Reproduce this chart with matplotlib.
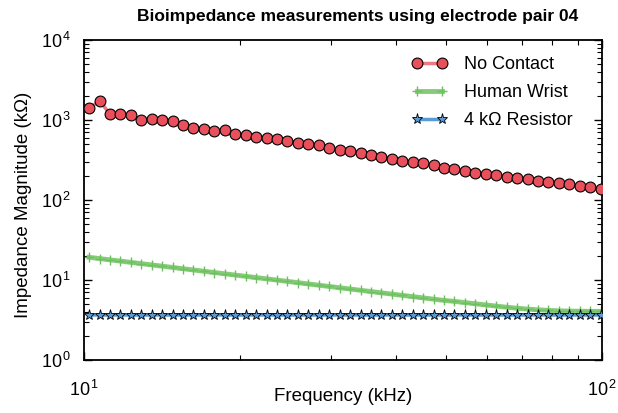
import numpy as np
import matplotlib
matplotlib.use("Agg")
import matplotlib.pyplot as plt
from matplotlib.ticker import NullFormatter, FuncFormatter

plt.rcParams['font.family'] = ['Liberation Sans', 'DejaVu Sans']
plt.rcParams['mathtext.fontset'] = 'custom'
plt.rcParams['mathtext.rm'] = 'Liberation Sans'
plt.rcParams['mathtext.it'] = 'Liberation Sans:italic'
plt.rcParams['mathtext.bf'] = 'Liberation Sans:bold'

# Data (kHz, kOhm)
freq = [10.23, 10.72, 11.22, 11.76, 12.31, 12.90, 13.51, 14.16, 14.83, 15.54,
        16.27, 17.04, 17.86, 18.70, 19.59, 20.52, 21.50, 22.52, 23.59, 24.71,
        25.88, 27.11, 28.40, 29.75, 31.16, 32.64, 34.19, 35.81, 37.51, 39.30,
        41.16, 43.12, 45.17, 47.31, 49.55, 51.91, 54.37, 56.95, 59.66, 62.49,
        65.46, 68.57, 71.82, 75.24, 78.81, 82.55, 86.47, 90.58, 94.87, 99.38]

no_contact = [1400, 1742, 1189, 1200, 1143, 991, 1029, 991, 980, 857,
              801, 778, 729, 750, 674, 649, 613, 590, 573, 551,
              520, 497, 482, 450, 424, 410, 390, 362, 348, 328,
              307, 299, 288, 272, 253, 242, 230, 219, 211, 204,
              196, 188, 181, 173, 169, 165, 158, 150, 145, 138]

human_wrist = [19.23, 18.54, 17.88, 17.24, 16.62, 16.02, 15.45, 14.89, 14.36, 13.84,
               13.35, 12.87, 12.41, 11.96, 11.53, 11.12, 10.72, 10.34, 9.97, 9.61,
               9.27, 8.93, 8.61, 8.30, 8.01, 7.72, 7.44, 7.18, 6.92, 6.67,
               6.43, 6.20, 5.98, 5.76, 5.56, 5.40, 5.22, 5.05, 4.88, 4.72,
               4.57, 4.44, 4.33, 4.24, 4.17, 4.12, 4.09, 4.07, 4.06, 4.05]

resistor = [3.66, 3.65, 3.65, 3.66, 3.65, 3.65, 3.65, 3.66, 3.65, 3.65,
            3.65, 3.65, 3.66, 3.65, 3.65, 3.65, 3.65, 3.66, 3.65, 3.65,
            3.65, 3.65, 3.65, 3.66, 3.65, 3.65, 3.65, 3.65, 3.65, 3.66,
            3.65, 3.65, 3.65, 3.65, 3.65, 3.65, 3.66, 3.65, 3.65, 3.65,
            3.65, 3.65, 3.65, 3.66, 3.65, 3.65, 3.65, 3.65, 3.65, 3.65]

fig = plt.figure(figsize=(6.18, 4.13), dpi=100)
ax = fig.add_axes([0.1359, 0.1283, 0.8382, 0.7748])

ax.plot(freq, no_contact, color='#ee7a80', lw=2.5, marker='o', ms=7.8,
        mfc='#e9505c', mec='black', mew=0.8, label='No Contact', zorder=3)
ax.plot(freq, human_wrist, color='#86cc78', lw=3.5, marker='+', ms=7,
        mec='#6cc060', mew=1.0, label='Human Wrist', zorder=2)
ax.plot(freq, resistor, color='#5b9bd5', lw=2.5, marker='*', ms=8,
        mfc='#5b9bd5', mec='black', mew=0.6, label='4 k\u03a9 Resistor', zorder=4)

ax.set_xscale('log')
ax.set_yscale('log')
ax.set_xlim(10, 100)
ax.set_ylim(1, 1e4)

pow10 = FuncFormatter(lambda v, p: r'$10^{\,%d}$' % round(np.log10(v)))
ax.xaxis.set_major_formatter(pow10)
ax.yaxis.set_major_formatter(pow10)
ax.xaxis.set_minor_formatter(NullFormatter())

ax.tick_params(which='both', direction='in', top=True, right=True, labelsize=13)
ax.tick_params(which='major', length=6, width=1)
ax.tick_params(which='minor', length=3.5, width=0.8)
ax.tick_params(axis='y', which='major', pad=9)
ax.tick_params(axis='x', which='major', pad=14)
for s in ax.spines.values():
    s.set_linewidth(1.3)

ax.set_xlabel('Frequency (kHz)', fontsize=13.5)
ax.xaxis.set_label_coords(0.5, -0.088)
ax.set_ylabel('Impedance Magnitude (k\u03a9)', fontsize=13.5)
ax.yaxis.set_label_coords(-0.1, 0.485)
ax.set_title('Bioimpedance measurements using electrode pair 04',
             fontsize=12.5, fontweight='bold', pad=14, x=0.529)

ax.legend(loc='upper right', frameon=False, fontsize=13, numpoints=2,
          handlelength=1.95, handletextpad=0.95, labelspacing=0.6,
          borderaxespad=0.0, borderpad=0.4,
          bbox_to_anchor=(0.9575, 0.972))

fig.savefig('out.png', dpi=100)
